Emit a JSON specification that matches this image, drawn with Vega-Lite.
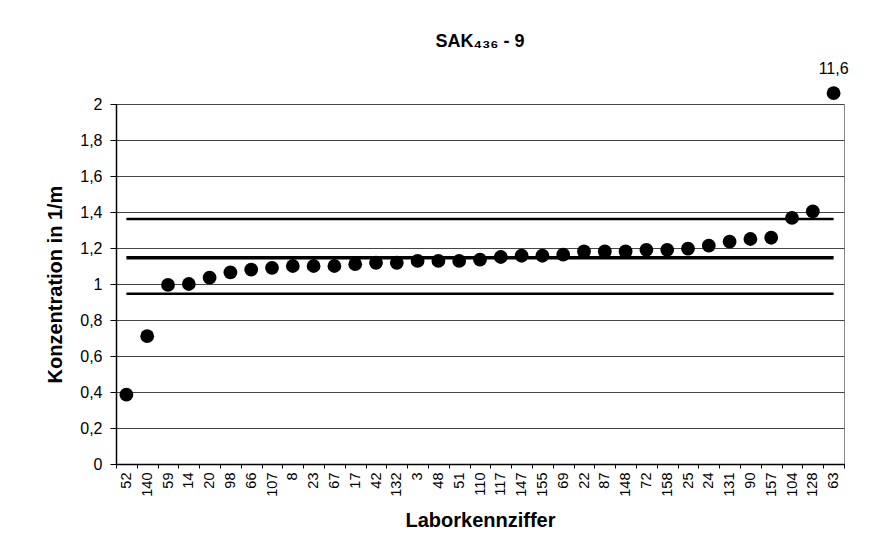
{
  "$schema": "https://vega.github.io/schema/vega-lite/v6.json",
  "autosize": "none",
  "width": 728,
  "height": 360,
  "padding": {"left": 116, "top": 104, "right": 26, "bottom": 90},
  "background": "white",
  "config": {
    "font": "Liberation Sans",
    "view": {"stroke": "#888", "strokeWidth": 1},
    "axis": {"labelFont": "Liberation Sans", "titleFont": "Liberation Sans", "labelColor": "#000", "titleColor": "#000", "domainColor": "#000", "tickColor": "#000"}
  },
  "title": {"text": "SAK₄₃₆ - 9", "fontSize": 18, "fontWeight": "bold", "font": "Liberation Sans", "color": "#000", "offset": 10, "anchor": "middle"},
  "datasets": {
    "pts": [
      {"lab": "52", "v": 0.385, "txt": ""},
      {"lab": "140", "v": 0.71, "txt": ""},
      {"lab": "59", "v": 0.995, "txt": ""},
      {"lab": "14", "v": 1.0, "txt": ""},
      {"lab": "20", "v": 1.035, "txt": ""},
      {"lab": "98", "v": 1.065, "txt": ""},
      {"lab": "66", "v": 1.08, "txt": ""},
      {"lab": "107", "v": 1.09, "txt": ""},
      {"lab": "8", "v": 1.1, "txt": ""},
      {"lab": "23", "v": 1.1, "txt": ""},
      {"lab": "67", "v": 1.1, "txt": ""},
      {"lab": "17", "v": 1.11, "txt": ""},
      {"lab": "42", "v": 1.118, "txt": ""},
      {"lab": "132", "v": 1.118, "txt": ""},
      {"lab": "3", "v": 1.128, "txt": ""},
      {"lab": "48", "v": 1.128, "txt": ""},
      {"lab": "51", "v": 1.128, "txt": ""},
      {"lab": "110", "v": 1.135, "txt": ""},
      {"lab": "117", "v": 1.15, "txt": ""},
      {"lab": "147", "v": 1.157, "txt": ""},
      {"lab": "155", "v": 1.157, "txt": ""},
      {"lab": "69", "v": 1.163, "txt": ""},
      {"lab": "22", "v": 1.181, "txt": ""},
      {"lab": "87", "v": 1.181, "txt": ""},
      {"lab": "148", "v": 1.181, "txt": ""},
      {"lab": "72", "v": 1.19, "txt": ""},
      {"lab": "158", "v": 1.19, "txt": ""},
      {"lab": "25", "v": 1.196, "txt": ""},
      {"lab": "24", "v": 1.213, "txt": ""},
      {"lab": "131", "v": 1.235, "txt": ""},
      {"lab": "90", "v": 1.25, "txt": ""},
      {"lab": "157", "v": 1.257, "txt": ""},
      {"lab": "104", "v": 1.367, "txt": ""},
      {"lab": "128", "v": 1.403, "txt": ""},
      {"lab": "63", "v": 2.06, "txt": "11,6"}
    ],
    "refs": [
      {"lab": "52", "to": "63", "v": 1.361, "w": 2.5},
      {"lab": "52", "to": "63", "v": 1.146, "w": 3.5},
      {"lab": "52", "to": "63", "v": 0.946, "w": 2.5}
    ]
  },
  "encoding": {
    "x": {
      "field": "lab", "type": "nominal", "sort": null,
      "scale": {"paddingInner": 0, "paddingOuter": 0, "domain": ["52","140","59","14","20","98","66","107","8","23","67","17","42","132","3","48","51","110","117","147","155","69","22","87","148","72","158","25","24","131","90","157","104","128","63"]},
      "axis": {"title": "Laborkennziffer", "titleFontSize": 20, "titleFontWeight": "bold", "titlePadding": 14, "labelAngle": -90, "labelFontSize": 14.5, "labelPadding": 4, "tickBand": "extent", "tickSize": 4, "grid": false, "domainWidth": 1.5}
    },
    "y": {
      "field": "v", "type": "quantitative",
      "scale": {"domain": [0, 2], "nice": false},
      "axis": {"title": "Konzentration in 1/m", "titleFontSize": 20, "titleFontWeight": "bold", "titlePadding": 14, "values": [0, 0.2, 0.4, 0.6, 0.8, 1, 1.2, 1.4, 1.6, 1.8, 2], "labelExpr": "replace(format(datum.value, '~g'), '.', ',')", "labelFontSize": 16, "labelOverlap": false, "tickSize": 6, "grid": true, "gridColor": "#444", "gridWidth": 1, "domainWidth": 1.5, "labelPadding": 8}
    }
  },
  "layer": [
    {
      "data": {"name": "refs"},
      "mark": {"type": "rule", "color": "#000"},
      "encoding": {
        "x2": {"field": "to"},
        "strokeWidth": {"field": "w", "type": "quantitative", "scale": null, "legend": null}
      }
    },
    {
      "data": {"name": "pts"},
      "mark": {"type": "circle", "color": "#000", "opacity": 1, "size": 190}
    },
    {
      "data": {"name": "pts"},
      "mark": {"type": "text", "dy": -24, "fontSize": 16, "color": "#000", "font": "Liberation Sans"},
      "encoding": {
        "text": {"field": "txt"}
      }
    }
  ]
}
